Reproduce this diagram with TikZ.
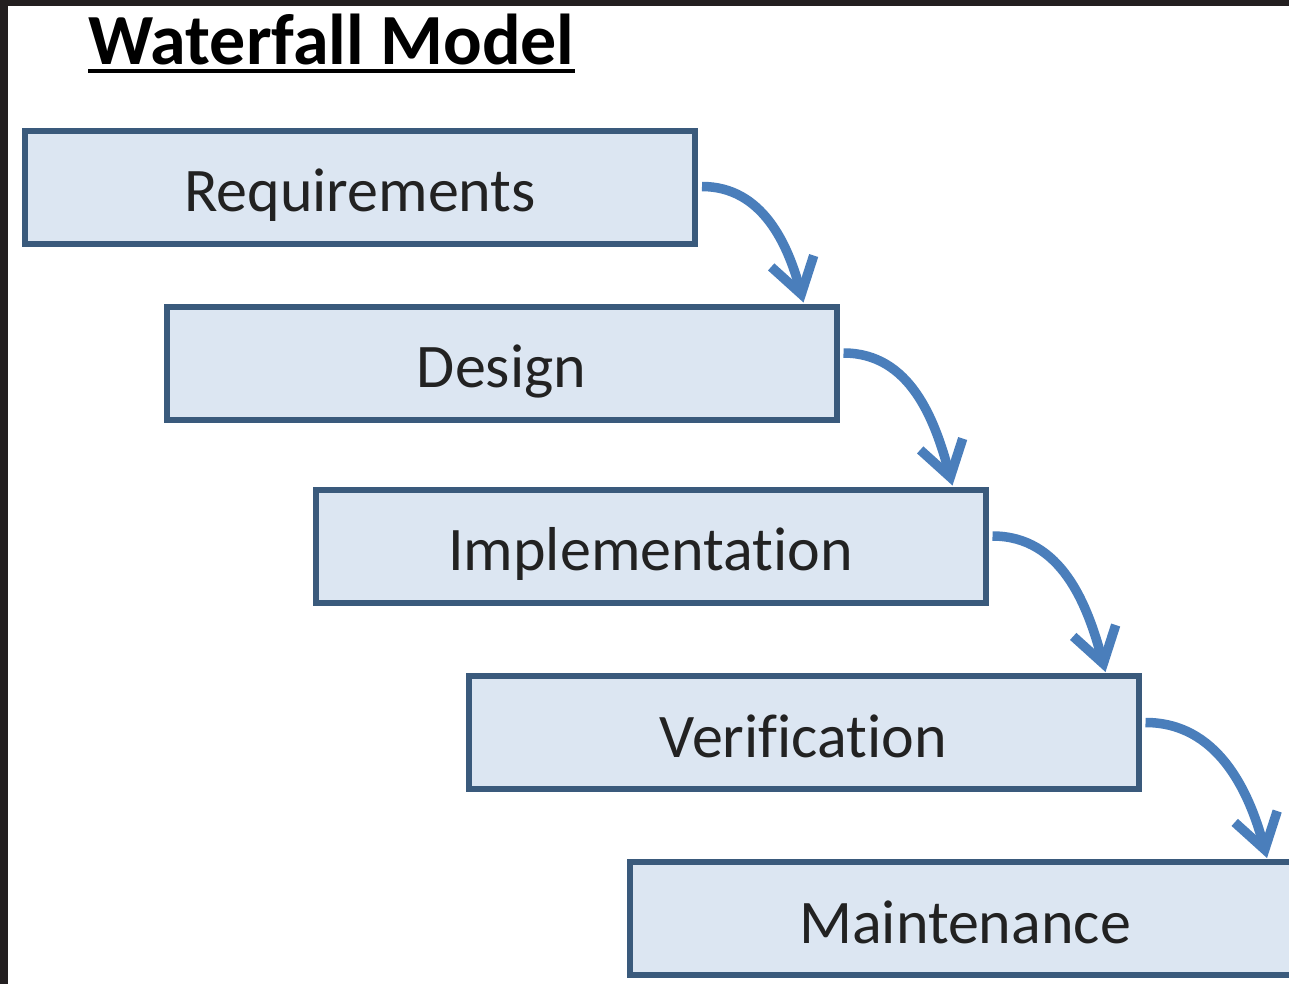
\documentclass[tikz,border=0pt]{standalone}
\usepackage{fontspec}
\setmainfont[Ligatures=NoCommon]{Carlito}
\usetikzlibrary{arrows.meta}
\definecolor{boxfill}{HTML}{DCE6F2}
\definecolor{boxline}{HTML}{3A5A7C}
\definecolor{arrowblue}{HTML}{4A7EBB}
\definecolor{txt}{HTML}{222222}
\definecolor{frame}{HTML}{231F20}
\tikzset{
  stage/.style={draw=boxline, line width=6pt, fill=boxfill, minimum width=670pt, minimum height=113pt, inner sep=0pt, text height=49pt, text depth=0pt, font=\fontsize{62}{70}\selectfont, text=txt},
  flow/.style={draw=arrowblue, line width=9.5pt, -{Straight Barb[length=34pt,width=44pt]}}
}
\begin{document}
\begin{tikzpicture}[x=1pt,y=-1pt]
\useasboundingbox (0,0) rectangle (1289,984);
\clip (0,0) rectangle (1289,984);
\fill[white] (0,0) rectangle (1289,984);
\node[anchor=base west, inner sep=0pt, font=\fontsize{72}{80}\selectfont\bfseries, text=black] (title) at (88,65) {Waterfall Model};
\draw[line width=3.5pt, black] ([yshift=-6pt]title.base west) -- ([yshift=-6pt]title.base east);
\node[stage] (req) at (360,187.5) {Requirements};
\node[stage] (des) at (501.5,363) {Design};
\node[stage] (imp) at (650.5,546) {Implementation};
\node[stage] (ver) at (803.5,732.5) {Verification};
\node[stage] (mai) at (965,918.5) {Maintenance};
\draw[flow] ([xshift=4pt,yshift=1pt]req.east) to[out=0,in=105] ([xshift=-36pt,yshift=1pt]des.north east);
\draw[flow] ([xshift=4pt,yshift=10pt]des.east) to[out=0,in=105] ([xshift=-36pt,yshift=1pt]imp.north east);
\draw[flow] ([xshift=4pt,yshift=10pt]imp.east) to[out=0,in=105] ([xshift=-36pt,yshift=1pt]ver.north east);
\draw[flow] ([xshift=4pt,yshift=10pt]ver.east) to[out=0,in=105] ([xshift=-36pt,yshift=1pt]mai.north east);
\fill[frame] (0,0) rectangle (1289,6);
\fill[frame] (0,0) rectangle (8,984);
\end{tikzpicture}
\end{document}
